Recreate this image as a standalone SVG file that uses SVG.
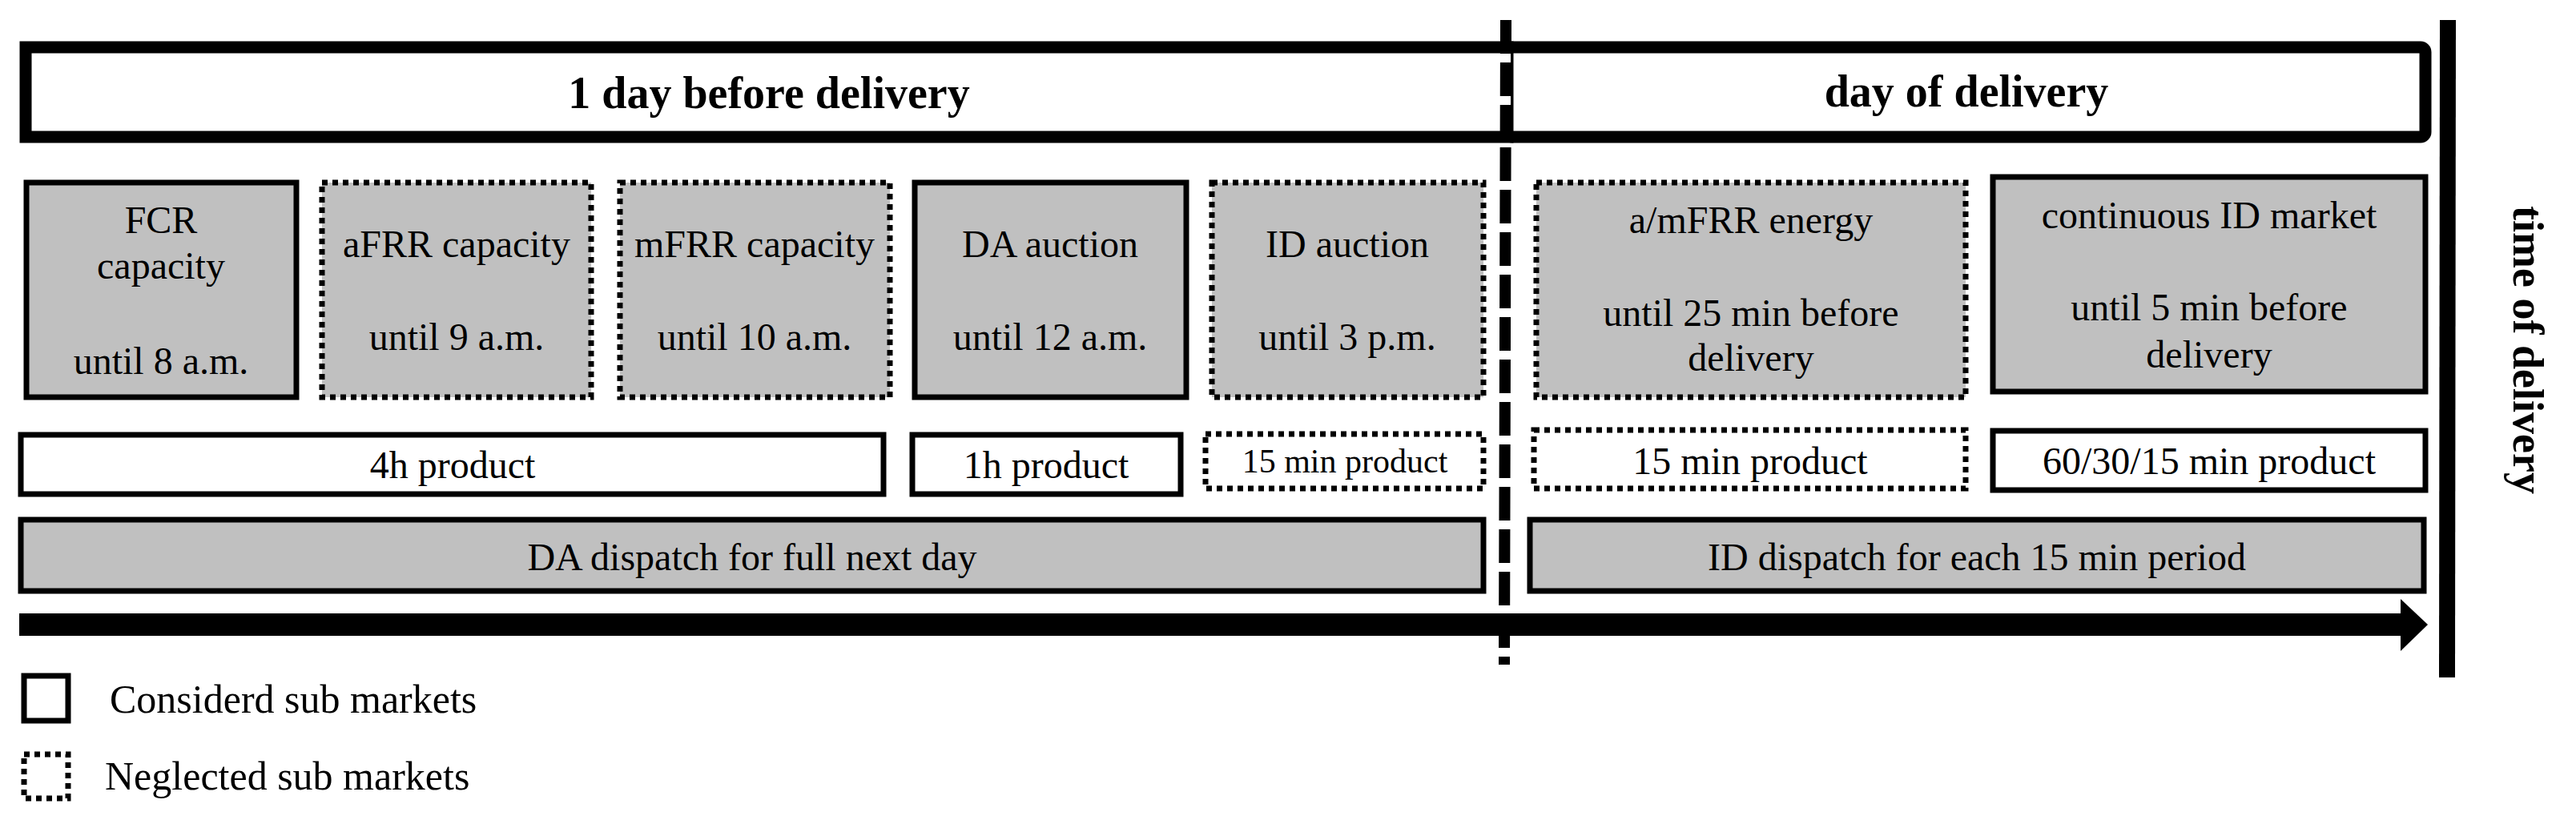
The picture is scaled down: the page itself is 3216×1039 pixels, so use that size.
<svg xmlns="http://www.w3.org/2000/svg" width="3216" height="1039" viewBox="0 0 3216 1039">
<style>
text{font-family:"Liberation Serif","DejaVu Serif",serif;fill:#000;text-anchor:middle}
.t{font-size:48px}
.h{font-size:56px;font-weight:bold}
.g{fill:#c0c0c0;stroke:#000;stroke-width:7}
.w{fill:#fff;stroke:#000;stroke-width:7}
.d{stroke-dasharray:7 6}
</style>
<rect width="3216" height="1039" fill="#fff"/>
<g id="header-before"><rect x="32" y="59" width="1850" height="112" fill="#fff" stroke="#000" stroke-width="15"/><text class="h" x="960" y="135">1 day before delivery</text></g>
<g id="header-day"><rect x="1882" y="59" width="1146" height="112" rx="6" fill="#fff" stroke="#000" stroke-width="15"/><rect x="1874" y="67" width="12" height="96" fill="#fff"/><text class="h" x="2455" y="133">day of delivery</text></g>
<g id="fcr"><rect class="g" x="33" y="228" width="337" height="268"/><text class="t" x="201" y="291">FCR</text><text class="t" x="201" y="348">capacity</text><text class="t" x="201" y="467">until 8 a.m.</text></g>
<g id="afrr"><rect class="g d" x="402" y="228" width="336" height="268"/><text class="t" x="570" y="321">aFRR capacity</text><text class="t" x="570" y="437">until 9 a.m.</text></g>
<g id="mfrr"><rect class="g d" x="774" y="228" width="337" height="268"/><text class="t" x="942" y="321">mFRR capacity</text><text class="t" x="942" y="437">until 10 a.m.</text></g>
<g id="da"><rect class="g" x="1142" y="228" width="339" height="268"/><text class="t" x="1311" y="321">DA auction</text><text class="t" x="1311" y="437">until 12 a.m.</text></g>
<g id="ida"><rect class="g d" x="1513" y="228" width="339" height="268"/><text class="t" x="1682" y="321">ID auction</text><text class="t" x="1682" y="437">until 3 p.m.</text></g>
<g id="amfrr"><rect class="g d" x="1918" y="228" width="536" height="268"/><text class="t" x="2186" y="291">a/mFRR energy</text><text class="t" x="2186" y="407">until 25 min before</text><text class="t" x="2186" y="463">delivery</text></g>
<g id="cid"><rect class="g" x="2488" y="221" width="540" height="268"/><text class="t" x="2758" y="285">continuous ID market</text><text class="t" x="2758" y="400">until 5 min before</text><text class="t" x="2758" y="459">delivery</text></g>
<g id="p4h"><rect class="w" x="26" y="543" width="1077" height="74"/><text class="t" x="565" y="597">4h product</text></g>
<g id="p1h"><rect class="w" x="1139" y="543" width="335" height="74"/><text class="t" x="1306" y="597">1h product</text></g>
<g id="p15a"><rect class="w d" x="1505" y="542" width="347" height="68"/><text x="1679" y="590" style="font-size:42px">15 min product</text></g>
<g id="p15b"><rect class="w d" x="1915" y="537" width="539" height="73"/><text class="t" x="2185" y="592">15 min product</text></g>
<g id="p60"><rect class="w" x="2488" y="538" width="540" height="74"/><text class="t" x="2758" y="592">60/30/15 min  product</text></g>
<g id="dadisp"><rect class="g" x="26" y="649" width="1826" height="89"/><text class="t" x="939" y="712">DA dispatch for full next day</text></g>
<g id="iddisp"><rect class="g" x="1910" y="649" width="1116" height="89"/><text class="t" x="2468" y="712">ID dispatch for each 15 min period</text></g>
<g id="connectors">
<rect x="24" y="766" width="2975" height="28" fill="#000"/>
<polygon points="2997,748 3031,780 2997,813" fill="#000"/>
<line x1="1880" y1="25" x2="1878" y2="830" stroke="#000" stroke-width="14" stroke-dasharray="42 11"/>
<line x1="3056" y1="25" x2="3055" y2="846" stroke="#000" stroke-width="20"/>
</g>
<g id="time-label"><text x="0" y="0" transform="translate(3138,437) rotate(90)" style="font-size:54px;font-weight:bold">time of delivery</text></g>
<g id="legend">
<rect class="w" x="30" y="844" width="55" height="56"/><text x="137" y="890" style="text-anchor:start;font-size:50px">Considerd sub markets</text>
<rect class="w d" x="30" y="942" width="55" height="55"/><text x="131" y="986" style="text-anchor:start;font-size:50px">Neglected sub markets</text>
</g>
</svg>
